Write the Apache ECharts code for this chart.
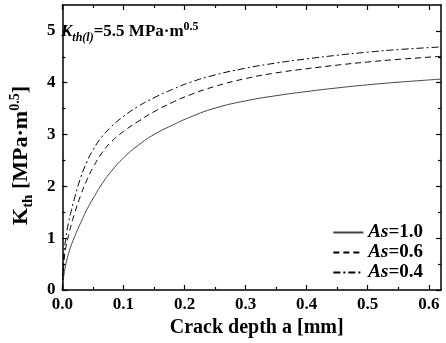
<!DOCTYPE html>
<html><head><meta charset="utf-8">
<script src="https://cdn.jsdelivr.net/npm/echarts@6/dist/echarts.min.js"></script>
<style>html,body{margin:0;padding:0;background:#fff}#c{width:446px;height:343px}</style>
</head><body><div id="c"></div>
<script>
// Data
const crackDepth = [0, 0.002, 0.005, 0.01, 0.015, 0.02, 0.03, 0.04, 0.05, 0.065, 0.08, 0.1, 0.125, 0.15, 0.18, 0.21, 0.25, 0.3, 0.35, 0.4, 0.45, 0.5, 0.55, 0.62];
const kAs10 = [0, 0.25, 0.46, 0.70, 0.88, 1.03, 1.30, 1.55, 1.76, 2.05, 2.29, 2.55, 2.80, 3.00, 3.18, 3.34, 3.51, 3.65, 3.75, 3.83, 3.90, 3.96, 4.01, 4.07];
const kAs06 = [0, 0.45, 0.78, 1.05, 1.28, 1.48, 1.83, 2.12, 2.36, 2.65, 2.86, 3.06, 3.26, 3.44, 3.62, 3.77, 3.93, 4.08, 4.19, 4.27, 4.34, 4.40, 4.45, 4.51];
const kAs04 = [0, 0.62, 0.95, 1.30, 1.55, 1.78, 2.17, 2.47, 2.70, 2.96, 3.15, 3.35, 3.55, 3.71, 3.87, 4.01, 4.15, 4.28, 4.38, 4.46, 4.53, 4.59, 4.64, 4.69];
const seriesNames = ['As=1.0', 'As=0.6', 'As=0.4'];
const xMajorTicks = [0, 0.1, 0.2, 0.3, 0.4, 0.5, 0.6];
const xMinorTicks = [0.05, 0.15, 0.25, 0.35, 0.45, 0.55];
const yMajorTicks = [0, 1, 2, 3, 4, 5];
const yMinorTicks = [0.5, 1.5, 2.5, 3.5, 4.5];

const FONT = '"Liberation Serif", "DejaVu Serif", serif';
const chart = echarts.init(document.getElementById('c'), null, {renderer: 'canvas'});
const zip = (xs, ys) => xs.map((x, i) => [x, ys[i]]);

function xAx(pos, ticks, len, labels, line) {
  return {
    type: 'value', position: pos, min: 0, max: 0.62,
    axisLine: {show: line, onZero: false, lineStyle: {color: '#000', width: 1.5}},
    splitLine: {show: false},
    axisTick: {show: true, inside: true, length: len, customValues: ticks, lineStyle: {color: '#000', width: 1.2}},
    axisLabel: labels ? {show: true, customValues: ticks, formatter: v => v.toFixed(1), color: '#000',
      fontFamily: FONT, fontWeight: 'bold', fontSize: 17, margin: 6} : {show: false}
  };
}
function yAx(pos, ticks, len, labels, line) {
  return {
    type: 'value', position: pos, min: 0, max: 5.5,
    axisLine: {show: line, onZero: false, lineStyle: {color: '#000', width: 1.5}},
    splitLine: {show: false},
    axisTick: {show: true, inside: true, length: len, customValues: ticks, lineStyle: {color: '#000', width: 1.2}},
    axisLabel: labels ? {show: true, customValues: ticks, formatter: v => String(v), color: '#000',
      fontFamily: FONT, fontWeight: 'bold', fontSize: 17, margin: 7} : {show: false}
  };
}

const xAxes = [
  xAx('bottom', xMajorTicks, 5, true, true),
  xAx('bottom', xMinorTicks, 3, false, false),
  xAx('top', xMajorTicks, 5, false, true),
  xAx('top', xMinorTicks, 3, false, false)
];
Object.assign(xAxes[0], {
  name: 'Crack depth a [mm]', nameLocation: 'middle', nameGap: 19,
  nameTextStyle: {fontFamily: FONT, fontWeight: 'bold', fontSize: 20, color: '#000', padding: [0, 0, 0, 10]}
});
const yAxes = [
  yAx('left', yMajorTicks, 5, true, true),
  yAx('left', yMinorTicks, 3, false, false),
  yAx('right', yMajorTicks, 5, false, true),
  yAx('right', yMinorTicks, 3, false, false)
];
Object.assign(yAxes[0], {
  name: '{b|K}{sub|th}{b| [MPa·m}{sup|0.5}{b|]}', nameLocation: 'middle', nameGap: 28, nameRotate: 90,
  nameTextStyle: {
    color: '#000', padding: [0, 16, 0, 0],
    rich: {
      b: {fontFamily: FONT, fontWeight: 'bold', fontSize: 22, color: '#000', verticalAlign: 'bottom', lineHeight: 24},
      sub: {fontFamily: FONT, fontWeight: 'bold', fontSize: 15, color: '#000', verticalAlign: 'bottom', lineHeight: 17, padding: [0, 0, -4, 0]},
      sup: {fontFamily: FONT, fontWeight: 'bold', fontSize: 14, color: '#000', verticalAlign: 'top', lineHeight: 24}
    }
  }
});

const styles = [
  {type: 'solid', color: '#444'},
  {type: [6, 4], color: '#000'},
  {type: [7, 3, 2, 3], color: '#000'}
];
const datas = [kAs10, kAs06, kAs04];

chart.setOption({
  animation: false,
  grid: {left: 49, right: 5, top: 5, bottom: 53, containLabel: false},
  xAxis: xAxes,
  yAxis: yAxes,
  legend: {
    orient: 'vertical', right: 23, bottom: 61, padding: 0, itemWidth: 30, itemHeight: 14, itemGap: 1,
    data: seriesNames,
    formatter: n => '{i|As}{b|' + n.slice(2) + '}',
    textStyle: {
      rich: {
        i: {fontFamily: FONT, fontStyle: 'italic', fontWeight: 'bold', fontSize: 19, color: '#000'},
        b: {fontFamily: FONT, fontWeight: 'bold', fontSize: 19, color: '#000'}
      }
    },
    itemStyle: {opacity: 0}
  },
  graphic: [{
    type: 'text', left: 61, top: 21,
    style: {
      text: '{k|K}{s|th(l)}{b|=5.5 MPa·m}{p|0.5}',
      rich: {
        k: {fontFamily: FONT, fontStyle: 'italic', fontWeight: 'bold', fontSize: 17, color: '#000', verticalAlign: 'bottom', lineHeight: 19},
        s: {fontFamily: FONT, fontStyle: 'italic', fontWeight: 'bold', fontSize: 12, color: '#000', verticalAlign: 'bottom', lineHeight: 13, padding: [0, 0, -4, 0]},
        b: {fontFamily: FONT, fontWeight: 'bold', fontSize: 17, color: '#000', verticalAlign: 'bottom', lineHeight: 19},
        p: {fontFamily: FONT, fontWeight: 'bold', fontSize: 12, color: '#000', verticalAlign: 'top', lineHeight: 19}
      }
    }
  }],
  series: seriesNames.map((n, i) => ({
    name: n, type: 'line', xAxisIndex: 0, yAxisIndex: 0,
    data: zip(crackDepth, datas[i]), smooth: 0.5, symbol: 'none', showSymbol: false,
    lineStyle: {width: 1, type: styles[i].type, color: styles[i].color},
    itemStyle: {color: styles[i].color}
  }))
});
</script></body></html>
